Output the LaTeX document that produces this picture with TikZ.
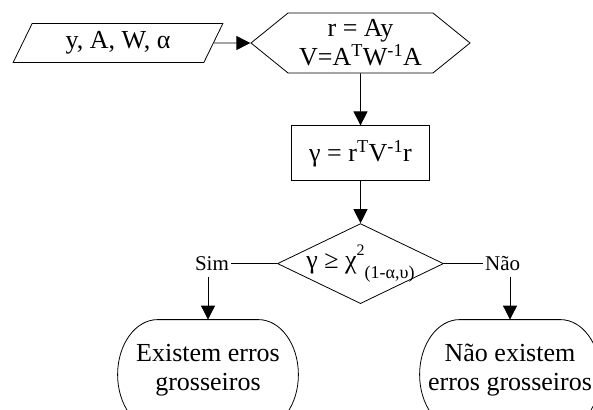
\documentclass[tikz,border=0pt]{standalone}
\usepackage{fontspec}
\setmainfont{Liberation Serif}
\usepackage{tikz}
\usetikzlibrary{arrows.meta, positioning, shapes.geometric, shapes.symbols}

\newcommand{\supx}[1]{\raisebox{13pt}[0pt][0pt]{\fontsize{16}{16}\selectfont #1}}
\newcommand{\subx}[1]{\raisebox{-10pt}[0pt][0pt]{\fontsize{18}{18}\selectfont #1}}

\begin{document}
\begin{tikzpicture}[
  x=1pt, y=-1pt,
  node distance=40pt,
  >={Triangle[length=14pt,width=14pt]},
  base/.style={draw=black, line width=0.8pt, align=center, inner sep=0pt, font=\fontsize{26}{29}\selectfont},
  io/.style={base, trapezium, trapezium left angle=63, trapezium right angle=117, trapezium stretches=true, minimum width=210pt, minimum height=39pt},
  hexa/.style={base, signal, signal to=west and east, signal pointer angle=78, minimum width=219pt, minimum height=60pt},
  box/.style={base, rectangle, minimum width=138pt, minimum height=55pt},
  decision/.style={base, diamond, aspect=2.08, minimum width=166pt, minimum height=80pt},
  terminal/.style={base, draw=none, rectangle, minimum width=180pt, minimum height=100pt},
  answer/.style={inner sep=2pt, font=\fontsize{21}{24}\selectfont},
  arrow/.style={->, line width=0.8pt},
  line/.style={line width=0.8pt}
]

\useasboundingbox (0,0) rectangle (593,409);

\node[io] (input) at (118,43) {y, A, W, α};
\node[hexa] (calc) at (360.5,43) {r = Ay\\ V=A\textsuperscript{T}W\textsuperscript{-1}A};
\node[box, below=52pt of calc] (gamma) {γ = r\textsuperscript{T}V\textsuperscript{-1}r};
\node[decision, below=42pt of gamma] (test) {γ ≥ χ\supx{2}\subx{(1-α,υ)}};

\node[answer, left=46pt of test] (sim) {Sim};
\node[answer, right=39pt of test] (nao) {Não};

\node[terminal] (yes) at (208,370) {Existem erros\\ grosseiros};
\node[terminal] (no) at (510,370) {Não existem\\ erros grosseiros};

% contorno dos terminais
\foreach \t in {yes, no}
  \draw[line] ([xshift=40pt]\t.north west) -- ([xshift=-40pt]\t.north east)
    arc[start angle=90, end angle=-90, x radius=40pt, y radius=55pt]
    -- ([xshift=40pt, yshift=-110pt]\t.north west)
    arc[start angle=270, end angle=90, x radius=40pt, y radius=55pt];

\draw[arrow] (input) -- (calc);
\draw[arrow] (calc) -- (gamma);
\draw[arrow] (gamma) -- (test);
\draw[line] (test) -- (sim);
\draw[line] (test) -- (nao);
\draw[arrow] ([yshift=-4pt]sim.south -| yes.north) -- (yes.north);
\draw[arrow] ([yshift=-4pt]nao.south -| no.north) -- (no.north);

\end{tikzpicture}
\end{document}
